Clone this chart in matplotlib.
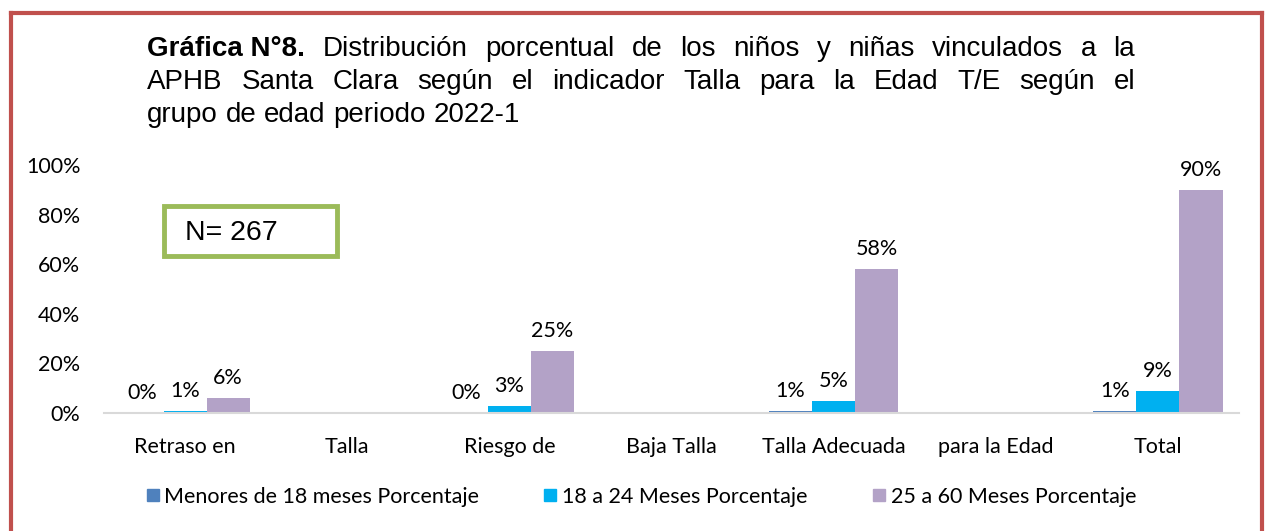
import matplotlib
matplotlib.use("Agg")
import matplotlib.pyplot as plt
import numpy as np
from matplotlib.patches import Rectangle
from matplotlib.lines import Line2D

categories = ["Retraso en", "Talla", "Riesgo de", "Baja Talla",
              "Talla Adecuada", "para la Edad", "Total"]
series_names = ["Menores de 18 meses Porcentaje",
                "18 a 24 Meses Porcentaje",
                "25 a 60 Meses Porcentaje"]
menores = [0, np.nan, 0, np.nan, 1, np.nan, 1]
meses_18_24 = [1, np.nan, 3, np.nan, 5, np.nan, 9]
meses_25_60 = [6, np.nan, 25, np.nan, 58, np.nan, 90]
colors = ["#4F81BD", "#00B0F0", "#B3A2C7"]
yticks = [0, 20, 40, 60, 80, 100]

title_bold = "Gráfica N°8."
title_lines = ["Distribución porcentual de los niños y niñas vinculados a la",
               "APHB Santa Clara según el indicador Talla para la Edad T/E según el",
               "grupo de edad periodo 2022-1"]

W, H = 1267, 531
fig = plt.figure(figsize=(W / 100, H / 100), dpi=100)

def fx(px):
    return px / W

def fy(py):
    return 1 - py / H

tick_font = "Lato"
title_font = "Liberation Sans"
fs = 15.5

ax = fig.add_axes([fx(104), fy(413), fx(1239) - fx(104), fy(165) - fy(413)])
x = np.arange(len(categories))
bw = 0.266
data = [menores, meses_18_24, meses_25_60]
for i, (vals, c) in enumerate(zip(data, colors)):
    vals = np.array(vals, dtype=float)
    pos = x + (i - 1) * bw
    ax.bar(pos, np.nan_to_num(vals), width=bw, color=c, linewidth=0,
           label=series_names[i])
    for p, v in zip(pos, vals):
        if np.isnan(v):
            continue
        ax.annotate(f"{v:.0f}%", (p, v), xytext=(0, 7), textcoords="offset points",
                    ha="center", va="bottom", fontsize=fs, family=tick_font)

ax.set_xlim(-0.5, len(categories) - 0.5)
ax.set_ylim(0, 100)
ax.set_yticks(yticks)
ax.set_yticklabels([f"{t}%" for t in yticks], family=tick_font, fontsize=fs)
ax.set_xticks(x)
ax.set_xticklabels(categories, family=tick_font, fontsize=fs)
ax.tick_params(axis="both", length=0)
ax.tick_params(axis="x", pad=17)
ax.tick_params(axis="y", pad=17)
for s in ["top", "right", "left"]:
    ax.spines[s].set_visible(False)
ax.spines["bottom"].set_color("#D9D9D9")
ax.spines["bottom"].set_linewidth(1.5)

# legend
handles = [Line2D([], [], marker="s", linestyle="", markersize=9,
                  markerfacecolor=c, markeredgecolor=c) for c in colors]
leg = fig.legend(handles, series_names, loc="center", ncol=3,
                 bbox_to_anchor=(fx(640), fy(497)), frameon=False,
                 prop={"family": tick_font, "size": fs},
                 handletextpad=0.15, columnspacing=2.9, handlelength=0.8)

# N box
fig.patches.append(Rectangle((fx(164), fy(256)), fx(337) - fx(164), fy(206) - fy(256),
                             transform=fig.transFigure, fill=False,
                             edgecolor="#9BBB59", linewidth=3.5))
fig.text(fx(185), fy(233), "N= 267", family=title_font, fontsize=20.5, va="center")

# red frame
for xs, ys in [([11, 11], [531, 13]), ([11, 1262], [13, 13]), ([1262, 1262], [13, 531])]:
    fig.add_artist(Line2D([fx(v) for v in xs], [fy(v) for v in ys],
                          color="#C0504D", linewidth=3, transform=fig.transFigure))

# justified title
renderer = fig.canvas.get_renderer()
left, right = 147, 1135
line_y = [56, 89, 122]
tsize = 20

def width_of(t):
    return t.get_window_extent(renderer).width

for li, line in enumerate(title_lines):
    words = line.split(" ")
    pieces = []
    if li == 0:
        pieces.append((title_bold, "bold"))
    pieces += [(w, "normal") for w in words]
    texts = [fig.text(0, fy(line_y[li]), w, family=title_font, fontsize=tsize,
                      fontweight=wt, va="baseline") for w, wt in pieces]
    widths = [width_of(t) for t in texts]
    if li < len(title_lines) - 1:
        gap = (right - left - sum(widths)) / (len(texts) - 1)
    else:
        gap = 0.28 * tsize * 100 / 72
    cur = left
    for t, w in zip(texts, widths):
        t.set_x(fx(cur))
        cur += w + gap

fig.savefig("out.png", dpi=100)
